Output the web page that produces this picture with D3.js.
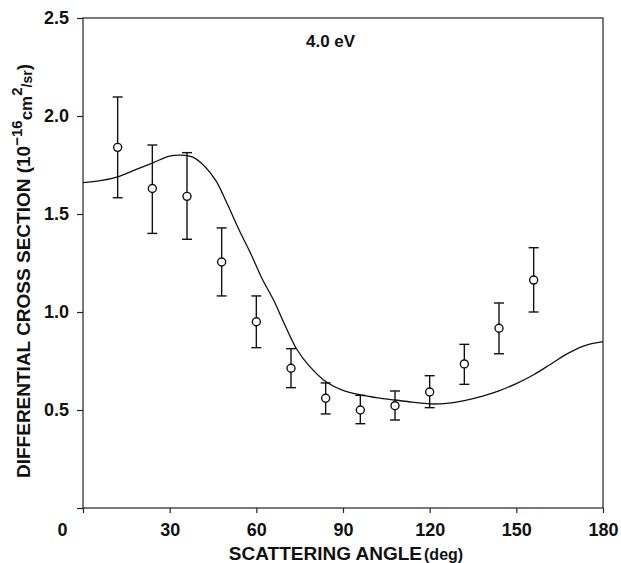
<!DOCTYPE html>
<html lang="en">
<head>
    <meta charset="UTF-8">
    <title>Differential cross section 4.0 eV</title>
    <script src="https://d3js.org/d3.v7.min.js"></script>
    <style>
        body { margin: 0; background: #fff; }
        svg { display: block; }
        text { font-family: "Liberation Sans", Arial, sans-serif; font-weight: bold; fill: #111; }
    </style>
</head>
<body>
    <script>
    // measured points (angle, DCS, error bar top / bottom)
    const angles = [12, 24, 36, 48, 60, 72, 84, 96, 108, 120, 132, 144, 156];
    const dcs    = [1.84, 1.63, 1.59, 1.255, 0.95, 0.713, 0.56, 0.50, 0.522, 0.592, 0.735, 0.917, 1.163];
    const errHi  = [2.097, 1.852, 1.813, 1.429, 1.082, 0.813, 0.638, 0.575, 0.597, 0.675, 0.835, 1.046, 1.328];
    const errLo  = [1.583, 1.401, 1.371, 1.082, 0.818, 0.614, 0.480, 0.430, 0.449, 0.512, 0.631, 0.787, 1.0];

    // theory curve
    const curveAngles = [0, 6, 12, 18, 24, 30, 34, 38, 42, 46, 50, 54, 58, 62, 66, 70, 74, 78, 84, 90, 96, 102, 108, 114, 120, 126, 132, 138, 144, 150, 156, 162, 168, 174, 180];
    const curveDcs    = [1.66, 1.67, 1.69, 1.725, 1.76, 1.795, 1.80, 1.79, 1.745, 1.67, 1.55, 1.42, 1.30, 1.17, 1.06, 0.93, 0.81, 0.73, 0.645, 0.60, 0.577, 0.562, 0.551, 0.54, 0.531, 0.534, 0.548, 0.57, 0.598, 0.635, 0.68, 0.735, 0.79, 0.83, 0.849];

    const xTicks = [0, 30, 60, 90, 120, 150, 180];
    const yTicks = [0, 0.5, 1.0, 1.5, 2.0, 2.5];

    const width = 621, height = 563;
    const x = d3.scaleLinear().domain([0, 180]).range([83, 603]);
    const y = d3.scaleLinear().domain([0, 2.5]).range([508, 18]);

    const svg = d3.select("body").append("svg")
      .attr("width", width)
      .attr("height", height);

    // frame
    svg.append("rect")
      .attr("x", x(0)).attr("y", y(2.5))
      .attr("width", x(180) - x(0)).attr("height", y(0) - y(2.5))
      .attr("fill", "none").attr("stroke", "#222").attr("stroke-width", 1.2);

    const xAxis = svg.append("g")
      .attr("transform", `translate(0,${y(0)})`)
      .call(d3.axisBottom(x).tickValues(xTicks).tickSize(5).tickPadding(10).tickSizeOuter(0));
    xAxis.select(".domain").remove();
    xAxis.selectAll("line").attr("stroke", "#222").attr("stroke-width", 1.2);
    xAxis.selectAll("text")
      .attr("font-size", 18)
      .attr("font-family", null)
      .attr("x", d => d === 0 ? -21 : 0);

    const yAxis = svg.append("g")
      .attr("transform", `translate(${x(0)},0)`)
      .call(d3.axisLeft(y).tickValues(yTicks).tickSize(6).tickPadding(8).tickSizeOuter(0)
        .tickFormat(d => d === 0 ? "" : d3.format(".1f")(d)));
    yAxis.select(".domain").remove();
    yAxis.selectAll("line").attr("stroke", "#222").attr("stroke-width", 1.2);
    yAxis.selectAll("text").attr("font-size", 18).attr("font-family", null);

    // theory line
    const line = d3.line()
      .x((d, i) => x(curveAngles[i]))
      .y(d => y(d))
      .curve(d3.curveCatmullRom);
    svg.append("path")
      .datum(curveDcs)
      .attr("d", line)
      .attr("fill", "none")
      .attr("stroke", "#111")
      .attr("stroke-width", 1.3);

    // error bars
    const pts = svg.append("g").attr("stroke", "#111").attr("stroke-width", 1.4).attr("fill", "none");
    angles.forEach((a, i) => {
      const g = pts.append("g");
      g.append("line").attr("x1", x(a)).attr("x2", x(a)).attr("y1", y(errHi[i])).attr("y2", y(errLo[i]));
      g.append("line").attr("x1", x(a) - 5).attr("x2", x(a) + 5).attr("y1", y(errHi[i])).attr("y2", y(errHi[i]));
      g.append("line").attr("x1", x(a) - 5).attr("x2", x(a) + 5).attr("y1", y(errLo[i])).attr("y2", y(errLo[i]));
      g.append("circle").attr("cx", x(a)).attr("cy", y(dcs[i])).attr("r", 4).attr("fill", "#fff");
    });

    // energy label
    svg.append("text")
      .attr("x", 306).attr("y", 47)
      .attr("font-size", 17)
      .text("4.0 eV");

    // x title
    const xt = svg.append("text")
      .attr("x", 346).attr("y", 560)
      .attr("text-anchor", "middle")
      .attr("font-size", 19);
    xt.append("tspan").text("SCATTERING ANGLE");
    xt.append("tspan").attr("font-size", 16).attr("dx", 2).text("(deg)");

    // y title
    const yt = svg.append("text")
      .attr("transform", "translate(30,478) rotate(-90)")
      .attr("font-size", 19);
    yt.append("tspan").text("DIFFERENTIAL CROSS SECTION (10");
    yt.append("tspan").attr("font-size", 15).attr("dy", -8).text("−16");
    yt.append("tspan").attr("font-size", 17).attr("dy", 10).text("cm");
    yt.append("tspan").attr("font-size", 15).attr("dy", -10).text("2");
    yt.append("tspan").attr("font-size", 14).attr("dy", 10).text("/sr");
    yt.append("tspan").attr("dy", -2).text(")");
    </script>
</body>
</html>
